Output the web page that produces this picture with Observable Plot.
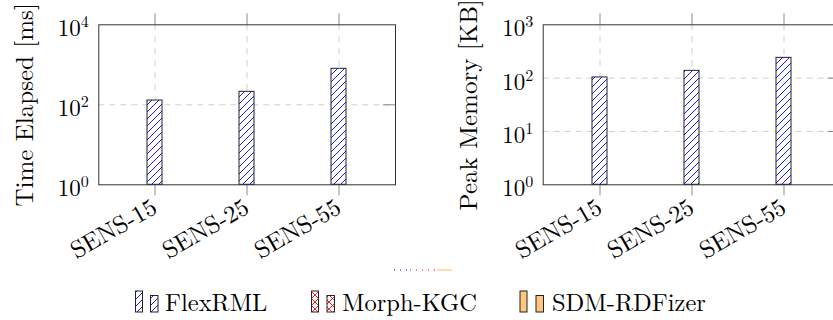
<!DOCTYPE html>
<html><head><meta charset="utf-8">
<script src="https://cdn.jsdelivr.net/npm/d3@7"></script>
<script src="https://cdn.jsdelivr.net/npm/@observablehq/plot@0.6"></script>
<style>
html,body{margin:0;padding:0;background:#fff;}
#wrap{position:relative;width:833px;height:320px;overflow:hidden;background:#fff;}
#left{position:absolute;left:0;top:0;width:420px;height:260px;}
#right{position:absolute;left:420px;top:0;width:440px;height:260px;}
#legend{position:absolute;left:0;top:260px;}
#wrap svg{max-width:none !important;overflow:visible;}
</style></head><body>
<svg width="0" height="0" style="position:absolute">
<defs>
<pattern id="hatchBlue" patternUnits="userSpaceOnUse" width="7" height="7">
<rect width="7" height="7" fill="#fff"/>
<path d="M-1,1 L1,-1 M0,7 L7,0 M6,8 L8,6" stroke="#0000ff" stroke-width="0.9"/>
</pattern>
<pattern id="hatchRed" patternUnits="userSpaceOnUse" width="7" height="7">
<rect width="7" height="7" fill="#fff"/>
<path d="M0,0 L7,7 M7,0 L0,7" stroke="#ff0000" stroke-width="0.9"/>
</pattern>
</defs>
</svg>
<div id="wrap">
<div id="left"></div>
<div id="right"></div>
<div id="legend"></div>
</div>
<script>
const categories = ["SENS-15", "SENS-25", "SENS-55"];
const timeFlexRML = [128, 211, 794];     // ms
const memoryFlexRML = [103, 137, 240];   // KB
const timeTicks = [1, 100, 10000];
const memoryTicks = [1, 10, 100, 1000];
const seriesNames = ["FlexRML", "Morph-KGC", "SDM-RDFizer"];

const FONT = "'Latin Modern Roman', 'CMU Serif', 'Liberation Serif', serif";

function panel({values, ticks, label, width, marginLeft, marginRight, labelDx}) {
  const data = categories.map((c, i) => ({cat: c, v: values[i]}));
  const domain = [ticks[0], ticks[ticks.length - 1]];
  const frameW = width - marginLeft - marginRight;
  const frameH = 160;
  const svg = Plot.plot({
    width, height: 260,
    marginLeft, marginRight, marginTop: 24.3, marginBottom: 75.7,
    style: {fontFamily: FONT, background: "transparent", color: "#000", maxWidth: "none", overflow: "visible"},
    x: {type: "band", domain: categories, paddingInner: 0.838, paddingOuter: 0.5245, axis: null},
    y: {type: "log", domain, axis: null},
    marks: [
      Plot.ruleY(ticks.slice(1, -1), {stroke: "#cfcfcf", strokeDasharray: "6,5"}),
      Plot.ruleX(categories, {x: d => d, stroke: "#cfcfcf", strokeDasharray: "6,6"}),
      Plot.ruleX(categories, {x: d => d, insetTop: -11, insetBottom: frameH, stroke: "#8a8a8a"}),
      Plot.ruleX(categories, {x: d => d, insetTop: frameH, insetBottom: -11, stroke: "#8a8a8a"}),
      Plot.ruleY(ticks.slice(1, -1), {insetLeft: frameW - 12, stroke: "#8a8a8a"}),
      Plot.barY(data, {x: "cat", y1: 1, y2: "v", fill: "url(#hatchBlue)", stroke: "#222", strokeWidth: 1}),
      Plot.frame({stroke: "#333", strokeWidth: 1}),
      Plot.axisY({ticks, tickSize: 0, tickPadding: 10, fontSize: 23, dy: 4,
        tickFormat: d => `10^${Math.round(Math.log10(d))}`, label: null}),
      Plot.text(categories, {x: d => d, text: d => d, frameAnchor: "bottom", rotate: -30,
        textAnchor: "end", lineAnchor: "top", dx: -5, dy: 12, fontSize: 24.5}),
      Plot.text([label], {text: d => d, frameAnchor: "left", dx: labelDx, rotate: -90,
        textAnchor: "middle", lineAnchor: "middle", fontSize: 25})
    ]
  });
  d3.select(svg).selectAll("text").each(function() {
    const m = /^10\^(\d+)$/.exec(this.textContent);
    if (!m) return;
    const sel = d3.select(this);
    sel.text("10");
    sel.append("tspan").attr("dy", "-9").attr("font-size", "16px").text(m[1]);
  });
  return svg;
}

document.getElementById("left").appendChild(panel({
  values: timeFlexRML, ticks: timeTicks, label: "Time Elapsed [ms]",
  width: 420, marginLeft: 98.3, marginRight: 25, labelDx: 24 - 98.3
}));
document.getElementById("right").appendChild(panel({
  values: memoryFlexRML, ticks: memoryTicks, label: "Peak Memory [KB]",
  width: 440, marginLeft: 122.7, marginRight: 20.5, labelDx: 48 - 122.7
}));

// legend
const fills = ["url(#hatchBlue)", "url(#hatchRed)", "#ffc67d"];
const p1x = [135.5, 311.5, 520];
const p2x = [150.5, 327, 536];
const tx = [165, 342, 552];
const lg = d3.select("#legend").append("svg").attr("width", 833).attr("height", 60)
  .style("font-family", FONT);
// small dotted artifact line
lg.append("line").attr("x1", 394).attr("x2", 410).attr("y1", 10).attr("y2", 10)
  .attr("stroke", "#0000ff").attr("stroke-dasharray", "1,5");
lg.append("line").attr("x1", 410).attr("x2", 437).attr("y1", 10).attr("y2", 10)
  .attr("stroke", "#ff0000").attr("stroke-dasharray", "1,5");
lg.append("line").attr("x1", 437).attr("x2", 452).attr("y1", 10).attr("y2", 10)
  .attr("stroke", "#ffc67d").attr("stroke-width", 1.2);
seriesNames.forEach((name, i) => {
  lg.append("rect").attr("x", p1x[i]).attr("y", 31).attr("width", 7).attr("height", 21)
    .attr("fill", fills[i]).attr("stroke", "#222").attr("stroke-width", 1);
  lg.append("rect").attr("x", p2x[i]).attr("y", 35.5).attr("width", 7.5).attr("height", 16.5)
    .attr("fill", fills[i]).attr("stroke", "#222").attr("stroke-width", 1);
  lg.append("text").attr("x", tx[i]).attr("y", 51).attr("font-size", 24.5).text(name);
});
</script>
</body></html>
